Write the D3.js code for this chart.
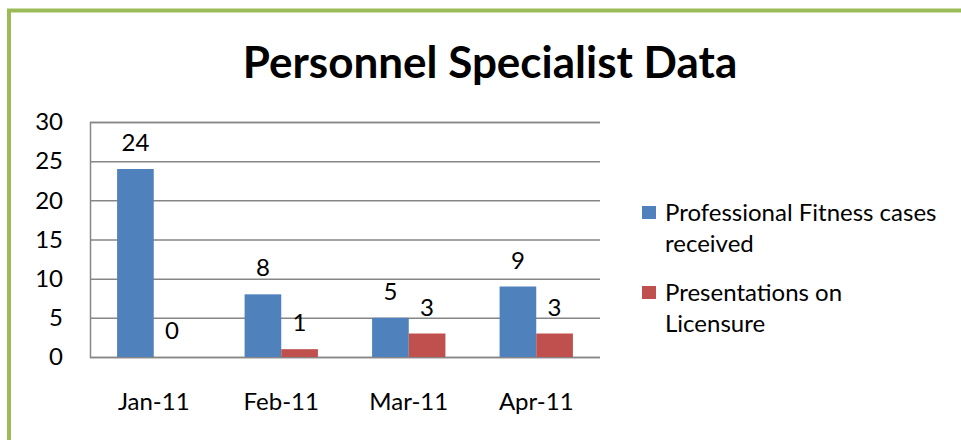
<!DOCTYPE html>
<html>
<head>
<meta charset="utf-8">
<script src="https://cdn.jsdelivr.net/npm/d3@7"></script>
<style>
  body { margin: 0; background: #fff; }
  svg { display: block; font-family: Lato, "Open Sans", sans-serif; }
</style>
</head>
<body>
<svg id="chart" width="961" height="440"></svg>
<script>
const months = ["Jan-11", "Feb-11", "Mar-11", "Apr-11"];
const seriesNames = ["Professional Fitness cases received", "Presentations on Licensure"];
const fitnessCases = [24, 8, 5, 9];
const presentations = [0, 1, 3, 3];
const yTicks = [0, 5, 10, 15, 20, 25, 30];
const legendLines = [["Professional Fitness cases", "received"], ["Presentations on", "Licensure"]];

const COLORS = ["#4F81BD", "#C0504D"];
const PLOT = { left: 90, top: 122, right: 600, bottom: 357 };
const FS = 24;

const svg = d3.select("#chart");

// green frame, runs off the right and bottom edge
svg.append("rect")
  .attr("x", 9)
  .attr("y", 10.5)
  .attr("width", 1000)
  .attr("height", 1000)
  .attr("fill", "none")
  .attr("stroke", "#9BBB59")
  .attr("stroke-width", 4);

svg.append("text")
  .attr("x", 490)
  .attr("y", 78)
  .attr("text-anchor", "middle")
  .attr("font-size", 44)
  .attr("font-weight", "bold")
  .attr("fill", "#000")
  .text("Personnel Specialist Data");

const x0 = d3.scaleBand()
  .domain(months)
  .range([PLOT.left, PLOT.right])
  .paddingInner(0.425)
  .paddingOuter(0.2125);

const x1 = d3.scaleBand()
  .domain(seriesNames)
  .range([0, x0.bandwidth()]);

const y = d3.scaleLinear()
  .domain([0, 30])
  .range([PLOT.bottom, PLOT.top]);

// gridlines + y labels
const yAxis = svg.append("g")
  .attr("transform", `translate(${PLOT.left},0)`)
  .call(d3.axisLeft(y).tickValues(yTicks).tickSize(-(PLOT.right - PLOT.left)).tickPadding(27));
yAxis.select(".domain").attr("stroke", "#868686").attr("stroke-width", 1.5);
yAxis.selectAll(".tick line").attr("stroke", "#868686").attr("stroke-width", 1.5);
yAxis.selectAll(".tick text")
  .attr("font-size", FS)
  .attr("fill", "#000")
  .attr("font-family", "Lato, sans-serif");

// x labels
const xAxis = svg.append("g")
  .attr("transform", `translate(0,${PLOT.bottom})`)
  .call(d3.axisBottom(x0).tickSize(0).tickPadding(36));
xAxis.select(".domain").remove();
xAxis.selectAll(".tick text")
  .attr("font-size", FS)
  .attr("fill", "#000")
  .attr("font-family", "Lato, sans-serif");

const rows = months.map((m, i) => ({
  month: m,
  values: [fitnessCases[i], presentations[i]]
}));

const groups = svg.selectAll(".grp")
  .data(rows)
  .enter()
  .append("g")
  .attr("transform", d => `translate(${x0(d.month)},0)`);

groups.selectAll("rect")
  .data(d => d.values.map((v, k) => ({ name: seriesNames[k], value: v, k })))
  .enter()
  .append("rect")
  .attr("x", d => x1(d.name))
  .attr("y", d => y(d.value))
  .attr("width", x1.bandwidth())
  .attr("height", d => y(0) - y(d.value))
  .attr("fill", d => COLORS[d.k]);

groups.selectAll(".lbl")
  .data(d => d.values.map((v, k) => ({ name: seriesNames[k], value: v, k })))
  .enter()
  .append("text")
  .attr("x", d => x1(d.name) + x1.bandwidth() / 2)
  .attr("y", d => y(d.value) - 18)
  .attr("text-anchor", "middle")
  .attr("font-size", FS)
  .attr("fill", "#000")
  .text(d => d.value);

// legend
const legend = svg.append("g").attr("transform", "translate(642,0)");
const legendTop = [206, 286];
legendLines.forEach((lines, k) => {
  legend.append("rect")
    .attr("x", 0)
    .attr("y", legendTop[k])
    .attr("width", 14)
    .attr("height", 13)
    .attr("fill", COLORS[k]);
  lines.forEach((t, j) => {
    legend.append("text")
      .attr("x", 23)
      .attr("y", legendTop[k] + 15 + j * 31)
      .attr("font-size", FS)
      .attr("fill", "#000")
      .text(t);
  });
});
</script>
</body>
</html>
